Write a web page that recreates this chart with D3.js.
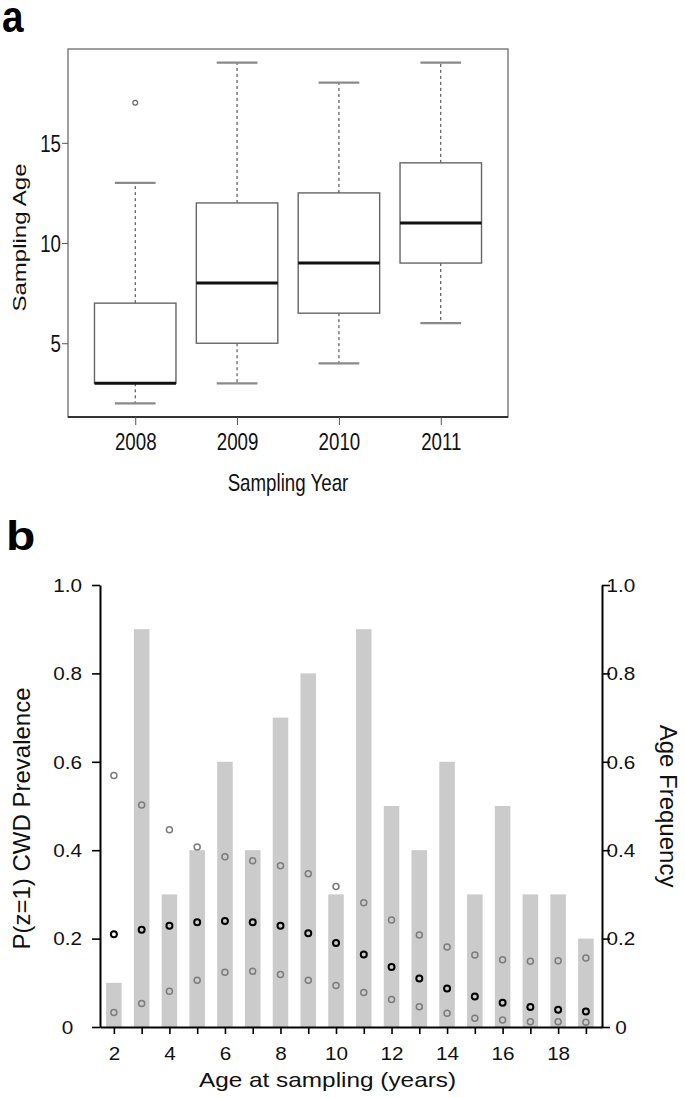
<!DOCTYPE html>
<html><head><meta charset="utf-8">
<script src="https://cdn.jsdelivr.net/npm/d3@7"></script>
<style>
body{margin:0;background:#fff}
svg{display:block}
text{font-family:"Liberation Sans",Arial,Helvetica,sans-serif}
</style>
</head><body>
<svg id="c" width="685" height="1098"></svg>
<script>
// ---------- Panel a data (box plot) ----------
const years = ["2008", "2009", "2010", "2011"];
const whiskerLow = [2, 3, 4, 6];
const quartile1 = [3, 5, 6.5, 9];
const medians = [3, 8, 9, 11];
const quartile3 = [7, 12, 12.5, 14];
const whiskerHigh = [13, 19, 18, 19];
const outlierYears = ["2008"];
const outlierValues = [17];
const ageTicksA = [5, 10, 15];

// ---------- Panel b data ----------
const ages = [2, 3, 4, 5, 6, 7, 8, 9, 10, 11, 12, 13, 14, 15, 16, 17, 18, 19];
const ageFrequency = [0.1, 0.9, 0.3, 0.4, 0.6, 0.4, 0.7, 0.8, 0.3, 0.9, 0.5, 0.4, 0.6, 0.3, 0.5, 0.3, 0.3, 0.2];
const prevUpper = [0.569, 0.502, 0.446, 0.407, 0.385, 0.376, 0.365, 0.347, 0.318, 0.281, 0.242, 0.208, 0.181, 0.163, 0.152, 0.149, 0.150, 0.156];
const prevMean  = [0.210, 0.220, 0.229, 0.237, 0.240, 0.237, 0.229, 0.212, 0.190, 0.164, 0.136, 0.110, 0.087, 0.069, 0.055, 0.045, 0.039, 0.035];
const prevLower = [0.033, 0.053, 0.081, 0.106, 0.124, 0.126, 0.119, 0.106, 0.094, 0.078, 0.062, 0.046, 0.031, 0.020, 0.016, 0.012, 0.012, 0.011];
const probTicks = [0, 0.2, 0.4, 0.6, 0.8, 1.0];

const svg = d3.select("#c");

function squeeze(sel, sx) {
  sel.each(function () {
    const t = d3.select(this);
    const x = +t.attr("x") || 0;
    t.attr("transform", `translate(${x},0) scale(${sx},1) translate(${-x},0)`);
  });
}

// ================= Panel a =================
const xA = d3.scaleLinear().domain([0.34, 4.66]).range([68, 508]);
const yA = d3.scaleLinear().domain([1.32, 19.68]).range([417, 49]);
const boxHalf = xA(0.4) - xA(0);
const capHalf = xA(0.2) - xA(0);
const gA = svg.append("g");

const boxData = years.map((y, i) => ({
  pos: i + 1, lo: whiskerLow[i], q1: quartile1[i], med: medians[i], q3: quartile3[i], hi: whiskerHigh[i]
}));

// whiskers
const bx = gA.selectAll("g.box").data(boxData).join("g").attr("class", "box");
bx.append("line")
  .attr("x1", d => xA(d.pos)).attr("x2", d => xA(d.pos))
  .attr("y1", d => yA(d.q3)).attr("y2", d => yA(d.hi))
  .attr("stroke", "#333").attr("stroke-width", 1).attr("stroke-dasharray", "3,3");
bx.append("line")
  .attr("x1", d => xA(d.pos)).attr("x2", d => xA(d.pos))
  .attr("y1", d => yA(d.q1)).attr("y2", d => yA(d.lo))
  .attr("stroke", "#333").attr("stroke-width", 1).attr("stroke-dasharray", "3,3");
// caps
bx.append("line")
  .attr("x1", d => xA(d.pos) - capHalf).attr("x2", d => xA(d.pos) + capHalf)
  .attr("y1", d => yA(d.hi)).attr("y2", d => yA(d.hi))
  .attr("stroke", "#8a8a8a").attr("stroke-width", 2.2);
bx.append("line")
  .attr("x1", d => xA(d.pos) - capHalf).attr("x2", d => xA(d.pos) + capHalf)
  .attr("y1", d => yA(d.lo)).attr("y2", d => yA(d.lo))
  .attr("stroke", "#8a8a8a").attr("stroke-width", 2.2);
// boxes
bx.append("rect")
  .attr("x", d => xA(d.pos) - boxHalf).attr("width", 2 * boxHalf)
  .attr("y", d => yA(d.q3)).attr("height", d => yA(d.q1) - yA(d.q3))
  .attr("fill", "#fff").attr("stroke", "#666").attr("stroke-width", 1.4);
// medians
bx.append("line")
  .attr("x1", d => xA(d.pos) - boxHalf).attr("x2", d => xA(d.pos) + boxHalf)
  .attr("y1", d => yA(d.med)).attr("y2", d => yA(d.med))
  .attr("stroke", "#111").attr("stroke-width", 3);
// outliers
gA.selectAll("circle.out").data(outlierYears.map((y, i) => ({ pos: years.indexOf(y) + 1, v: outlierValues[i] })))
  .join("circle").attr("class", "out")
  .attr("cx", d => xA(d.pos)).attr("cy", d => yA(d.v)).attr("r", 2.4)
  .attr("fill", "none").attr("stroke", "#666").attr("stroke-width", 1.2);

// frame
gA.append("rect").attr("x", xA(0.34)).attr("y", yA(19.68))
  .attr("width", xA(4.66) - xA(0.34)).attr("height", yA(1.32) - yA(19.68))
  .attr("fill", "none").attr("stroke", "#777").attr("stroke-width", 1.4);
gA.append("line").attr("x1", xA(0.34)).attr("x2", xA(4.66))
  .attr("y1", yA(1.32)).attr("y2", yA(1.32)).attr("stroke", "#333").attr("stroke-width", 2);

// axes
const axLA = gA.append("g").attr("transform", `translate(${xA(0.34)},0)`)
  .call(d3.axisLeft(yA).tickValues(ageTicksA).tickSize(6).tickPadding(1).tickFormat(d3.format("d")));
axLA.select(".domain").remove();
axLA.selectAll(".tick line").attr("stroke", "#555");
axLA.selectAll("text").attr("font-size", 24).attr("fill", "#111").attr("dy", "0.36em").call(squeeze, 0.78);

const axBA = gA.append("g").attr("transform", `translate(0,${yA(1.32)})`)
  .call(d3.axisBottom(xA).tickValues([1, 2, 3, 4]).tickFormat((d, i) => years[i]).tickSize(8));
axBA.select(".domain").remove();
axBA.selectAll(".tick line").attr("stroke", "#555");
axBA.selectAll("text").attr("font-size", 24).attr("fill", "#111").attr("y", 33).attr("dy", 0).call(squeeze, 0.78);

gA.append("text").attr("x", 288).attr("y", 491).attr("text-anchor", "middle")
  .attr("font-size", 24).attr("fill", "#111").text("Sampling Year").call(squeeze, 0.78);
gA.append("g").attr("transform", "translate(26,237.5) rotate(-90) scale(1,0.78)")
  .append("text").attr("text-anchor", "middle").attr("font-size", 24).attr("fill", "#111").text("Sampling Age");

svg.append("text").attr("x", 2).attr("y", 32).attr("font-size", 44).attr("font-weight", "bold")
  .attr("fill", "#000").text("a").call(squeeze, 0.88);

// ================= Panel b =================
const xB = d3.scaleLinear().domain([1.5, 19.58]).range([100, 602]);
const yB = d3.scaleLinear().domain([0, 1]).range([1027, 585]);
const barHalf = xB(0.28) - xB(0);
const gB = svg.append("g");

gB.selectAll("rect.bar").data(ages.map((a, i) => ({ a, f: ageFrequency[i] })))
  .join("rect").attr("class", "bar")
  .attr("x", d => xB(d.a) - barHalf).attr("width", 2 * barHalf)
  .attr("y", d => yB(d.f)).attr("height", d => yB(0) - yB(d.f))
  .attr("fill", "#cbcbcb");

function pts(vals, color, sw) {
  gB.selectAll(null).data(ages.map((a, i) => ({ a, v: vals[i] })))
    .join("circle")
    .attr("cx", d => xB(d.a)).attr("cy", d => yB(d.v)).attr("r", 3)
    .attr("fill", "none").attr("stroke", color).attr("stroke-width", sw);
}
pts(prevUpper, "#7c7c7c", 1.5);
pts(prevLower, "#7c7c7c", 1.5);
pts(prevMean, "#000", 2);

const fmtP = d => d === 0 ? "0" : d3.format(".1f")(d);
const axL = gB.append("g").attr("transform", `translate(${xB(1.5)},0)`)
  .call(d3.axisLeft(yB).tickValues(probTicks).tickFormat(fmtP).tickSize(8).tickSizeOuter(0));
axL.select(".domain").attr("stroke", "#000").attr("stroke-width", 2);
axL.selectAll(".tick line").attr("stroke", "#000").attr("stroke-width", 1.6);
axL.selectAll("text").attr("font-size", 18).attr("fill", "#111").attr("text-anchor", "middle")
  .attr("x", -32.5).attr("dy", "0.35em").call(squeeze, 1.15);

const axR = gB.append("g").attr("transform", `translate(${xB(19.58)},0)`)
  .call(d3.axisRight(yB).tickValues(probTicks).tickFormat(fmtP).tickSize(8).tickSizeOuter(0));
axR.select(".domain").attr("stroke", "#000").attr("stroke-width", 2);
axR.selectAll(".tick line").attr("stroke", "#000").attr("stroke-width", 1.6);
axR.selectAll("text").attr("font-size", 18).attr("fill", "#111").attr("text-anchor", "middle")
  .attr("x", 19).attr("dy", "0.35em").call(squeeze, 1.15);

const axB = gB.append("g").attr("transform", `translate(0,${yB(0)})`)
  .call(d3.axisBottom(xB).tickValues(ages).tickFormat(d => d % 2 === 0 ? d : "").tickSize(7).tickSizeOuter(0));
axB.select(".domain").attr("stroke", "#000").attr("stroke-width", 2);
axB.selectAll(".tick line").attr("stroke", "#000").attr("stroke-width", 1.6);
axB.selectAll("text").attr("font-size", 18).attr("fill", "#111").attr("y", 33).attr("dy", 0).call(squeeze, 1.15);

gB.append("text").attr("x", 327.5).attr("y", 1087).attr("text-anchor", "middle")
  .attr("font-size", 21).attr("fill", "#111").text("Age at sampling (years)").call(squeeze, 1.16);
gB.append("text").attr("transform", "translate(30,818.5) rotate(-90)").attr("text-anchor", "middle")
  .attr("font-size", 24).attr("fill", "#111").text("P(z=1) CWD Prevalence");
gB.append("text").attr("transform", "translate(660,806) rotate(90)").attr("text-anchor", "middle")
  .attr("font-size", 24).attr("fill", "#111").text("Age Frequency");

svg.append("text").attr("x", 6).attr("y", 550).attr("font-size", 40).attr("font-weight", "bold")
  .attr("fill", "#000").text("b").call(squeeze, 1.2);
</script>
</body></html>
